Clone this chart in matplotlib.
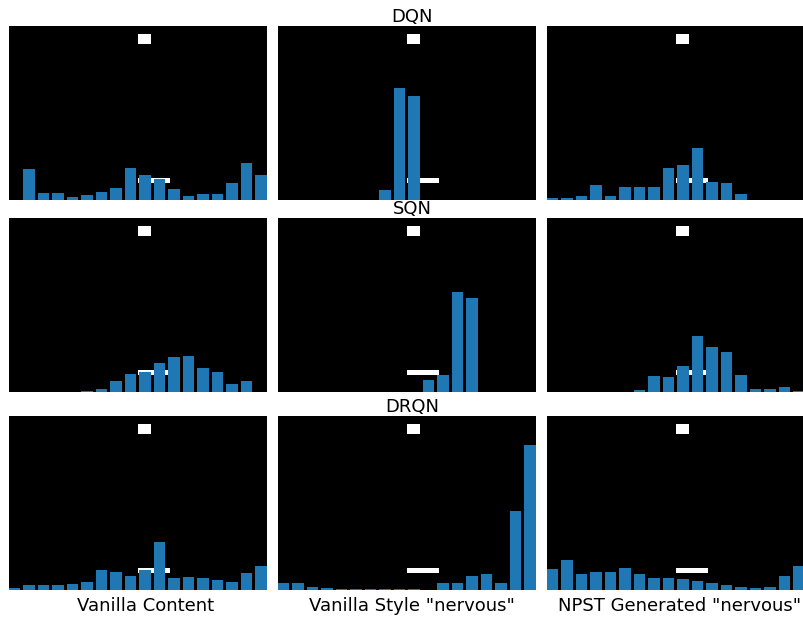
import numpy as np
import matplotlib
matplotlib.use("Agg")
from matplotlib import pyplot as plt

# bar heights per panel (18 bins), in pixels of the 174px-tall game frame
models = ["DQN", "SQN", "DRQN"]
inputs = ["Vanilla Content", 'Vanilla Style "nervous"', 'NPST Generated "nervous"']

dqn_content = [0, 31, 7, 7, 3, 5, 8, 12, 32, 25, 21, 11, 4, 6, 6, 17, 37, 25]
dqn_style = [0, 0, 0, 0, 0, 0, 0, 10, 112, 104, 0, 0, 0, 0, 0, 0, 0, 0]
dqn_npst = [2.3, 2.3, 4.3, 15.3, 4.3, 13.3, 13.3, 13.3, 32.3, 35.3, 52.3, 18.3, 17.3, 6.3, 0, 0, 0, 0]

sqn_content = [0, 0, 0, 0, 0, 1.5, 3.5, 11.5, 18.5, 20.5, 29.5, 35.5, 36.5, 24.5, 20.5, 8.5, 11.5, 0]
sqn_style = [0, 0, 0, 0, 0, 0, 0, 0, 0, 0, 12, 17, 100, 94, 0, 0, 0, 0]
sqn_npst = [0, 0, 0, 0, 0, 0, 2, 16, 15, 26, 56, 45, 40, 17, 3, 3, 5, 1]

drqn_content = [2.3, 5.3, 5.3, 5.3, 6.3, 8.3, 20.3, 18.3, 14.3, 20.3, 48.3, 12.3, 13.3, 12.3, 10.3, 8.3, 17.3, 24.3]
drqn_style = [7.3, 7.3, 3.3, 2.3, 1.3, 1.3, 1.3, 1.3, 1.3, 1.3, 0, 7.3, 7.3, 14.3, 16.3, 7.3, 79.3, 145.3]
drqn_npst = [20.7, 29.7, 15.7, 17.7, 17.7, 21.7, 15.7, 11.7, 11.7, 10.7, 8.7, 6.7, 4.7, 2.7, 1.7, 2.7, 13.7, 23.7]

hists = [[dqn_content, dqn_style, dqn_npst],
         [sqn_content, sqn_style, sqn_npst],
         [drqn_content, drqn_style, drqn_npst]]

# the game frame (black with ball and paddle)
FRAME_H, FRAME_W = 174, 258
frame = np.zeros((FRAME_H, FRAME_W))
frame[8:18, 129:142] = 1      # ball
frame[152:157, 129:161] = 1   # paddle

W, H = 804, 617
fig = plt.figure(figsize=(W / 100, H / 100), dpi=100)

col_left = [9, 278, 547]
row_top = [26, 218, 416]
label_shift = [8, 5, 4]   # px, labels sit a bit right of the axes centre
ax_w, ax_h = 258, 174
xlim = (-0.38, 17.42)

for r in range(3):
    for c in range(3):
        ax = fig.add_axes([col_left[c] / W, 1 - (row_top[r] + ax_h) / H, ax_w / W, ax_h / H])
        ax.imshow(frame, cmap="gray", extent=(xlim[0], xlim[1], 0, FRAME_H),
                  aspect="auto", interpolation="nearest", vmin=0, vmax=1)
        vals = hists[r][c]
        ax.bar(np.arange(len(vals)), vals, width=0.78, color="#1f77b4", zorder=3)
        ax.set_xlim(*xlim)
        ax.set_ylim(0, FRAME_H)
        ax.set_xticks([])
        ax.set_yticks([])
        for s in ax.spines.values():
            s.set_visible(False)
        if c == 1:
            t = ax.set_title(models[r], fontsize=13, pad=3)
            t.set_x(0.5 + 5 / ax_w)
        if r == 2:
            ax.set_xlabel(inputs[c], fontsize=13, labelpad=5)
            lbl = ax.xaxis.label
            lbl.set_x(0.5 + label_shift[c] / ax_w)

plt.savefig("out.png", dpi=100)
